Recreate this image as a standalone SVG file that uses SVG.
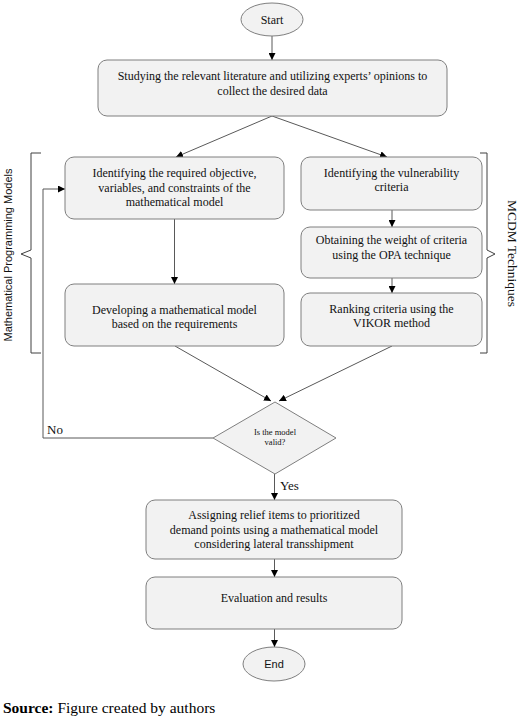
<svg xmlns="http://www.w3.org/2000/svg" width="520" height="719" viewBox="0 0 520 719">
<defs>
<marker id="ah" viewBox="0 0 10 10" refX="10" refY="5" markerWidth="7" markerHeight="7" markerUnits="userSpaceOnUse" orient="auto">
<path d="M0,0 L10,5 L0,10 z" fill="#000"/>
</marker>
</defs>
<style>
.box{fill:#f2f2f2;stroke:#7f7f7f;stroke-width:1}
.t{font-family:"Liberation Serif","Times New Roman",serif;font-size:12px;fill:#111;text-anchor:middle}
.s{font-family:"Liberation Sans",Arial,sans-serif;fill:#111;text-anchor:middle}
.c{fill:none;stroke:#595959;stroke-width:1}
.a{marker-end:url(#ah)}
.br{fill:none;stroke:#404040;stroke-width:1}
</style>
<rect width="520" height="719" fill="#fff"/>

<g id="connectors">
<line class="c a" x1="272" y1="36" x2="272" y2="60"/>
<line class="c a" x1="272" y1="116" x2="176" y2="157"/>
<line class="c a" x1="272" y1="116" x2="387" y2="157"/>
<line class="c a" x1="174.5" y1="219" x2="174.5" y2="284"/>
<line class="c a" x1="392" y1="210" x2="392" y2="227"/>
<line class="c a" x1="392" y1="278" x2="392" y2="293"/>
<line class="c a" x1="175" y1="346" x2="271" y2="401"/>
<line class="c a" x1="392" y1="346" x2="279" y2="401"/>
<path class="c a" d="M213,438 H43 V189 H65"/>
<line class="c a" x1="274.5" y1="474" x2="274.5" y2="500"/>
<line class="c a" x1="274.5" y1="559" x2="274.5" y2="577"/>
<line class="c a" x1="274.5" y1="629" x2="274.5" y2="647"/>
<text class="t" x="47" y="434" style="text-anchor:start;font-size:13px">No</text>
<text class="t" x="280" y="490" style="text-anchor:start;font-size:13px">Yes</text>
</g>

<g id="start">
<ellipse cx="272" cy="19.5" rx="31" ry="16.5" class="box"/>
<text class="t" x="272" y="23.5">Start</text>
</g>

<g id="collect">
<rect class="box" x="98" y="60" width="349" height="56" rx="9"/>
<text class="t" x="272.5" y="80">Studying the relevant literature and utilizing experts’ opinions to</text>
<text class="t" x="272.5" y="95">collect the desired data</text>
</g>

<g id="identify-objective">
<rect class="box" x="65" y="157" width="219" height="62" rx="9"/>
<text class="t" x="174.5" y="177">Identifying the required objective,</text>
<text class="t" x="174.5" y="191.5">variables, and constraints of the</text>
<text class="t" x="174.5" y="206">mathematical model</text>
</g>

<g id="develop-model">
<rect class="box" x="65" y="284" width="219" height="62" rx="9"/>
<text class="t" x="174.5" y="314">Developing a mathematical model</text>
<text class="t" x="174.5" y="328">based on the requirements</text>
</g>

<g id="identify-criteria">
<rect class="box" x="301" y="157" width="181" height="53" rx="9"/>
<text class="t" x="391.5" y="177">Identifying the vulnerability</text>
<text class="t" x="391.5" y="191">criteria</text>
</g>

<g id="opa">
<rect class="box" x="301" y="227" width="181" height="51" rx="9"/>
<text class="t" x="391.5" y="244">Obtaining the weight of criteria</text>
<text class="t" x="391.5" y="259">using the OPA technique</text>
</g>

<g id="vikor">
<rect class="box" x="301" y="293" width="181" height="53" rx="9"/>
<text class="t" x="391.5" y="313">Ranking criteria using the</text>
<text class="t" x="391.5" y="327">VIKOR method</text>
</g>

<g id="decision">
<polygon class="box" points="275,402 336,438 275,474 213,438"/>
<text class="t" x="275" y="434.5" style="font-size:8.5px">Is the model</text>
<text class="t" x="275" y="444.5" style="font-size:8.5px">valid?</text>
</g>

<g id="assign">
<rect class="box" x="146" y="500" width="256" height="59" rx="9"/>
<text class="t" x="274" y="519">Assigning relief items to prioritized</text>
<text class="t" x="274" y="533.5">demand points using a mathematical model</text>
<text class="t" x="274" y="548">considering lateral transshipment</text>
</g>

<g id="evaluation">
<rect class="box" x="146" y="577" width="256" height="52" rx="9"/>
<text class="t" x="274" y="602">Evaluation and results</text>
</g>

<g id="end">
<ellipse cx="274" cy="664" rx="31" ry="17" class="box"/>
<text class="s" x="274" y="668" style="font-size:11px">End</text>
</g>

<g id="group-math">
<path class="br" d="M41,153 H31 V250 L21,254 L31,258 V353 H41"/>
<text class="s" transform="translate(12,255) rotate(-90)" style="font-size:11px">Mathematical Programming Models</text>
</g>

<g id="group-mcdm">
<path class="br" d="M480,153 H487 V250 L495,254 L487,258 V353 H480"/>
<text class="t" transform="translate(508,253.5) rotate(90)" style="font-size:13.5px">MCDM Techniques</text>
</g>

<g id="source">
<text x="3" y="713" style="font-family:'Liberation Serif','Times New Roman',serif;font-size:15.5px;fill:#000"><tspan font-weight="bold">Source:</tspan> Figure created by authors</text>
</g>
</svg>
